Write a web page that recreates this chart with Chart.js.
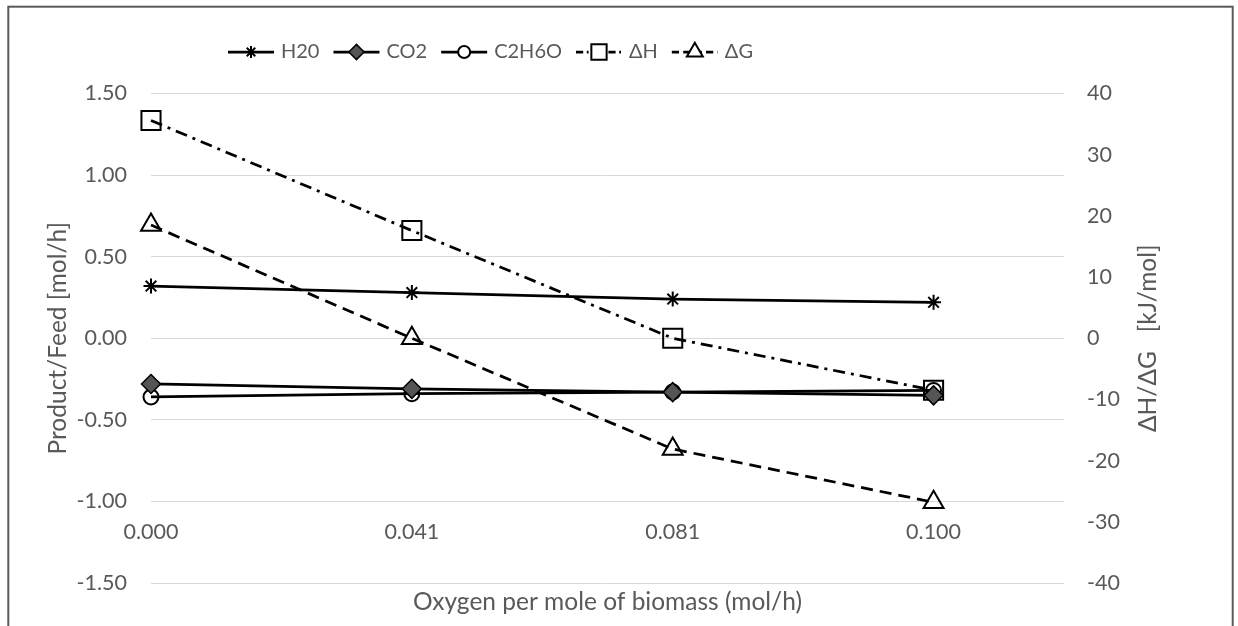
<!DOCTYPE html>
<html>
<head>
<meta charset="utf-8">
<script src="https://cdn.jsdelivr.net/npm/chart.js@4.4.1/dist/chart.umd.min.js"></script>
<style>
  html, body { margin: 0; padding: 0; background: #ffffff; }
  #wrap { width: 1238px; height: 626px; position: relative; }
</style>
</head>
<body>
<div id="wrap"><canvas id="chart" width="1238" height="626"></canvas></div>
<script>
// Oxygen feed per mole of biomass (category labels on the x axis)
const oxygenLabels = ['0.000', '0.041', '0.081', '0.100'];

// Product/Feed [mol/h] – left axis
const h2o     = [0.32, 0.28, 0.24, 0.22];
const co2     = [-0.28, -0.31, -0.33, -0.35];
const ethanol = [-0.36, -0.34, -0.33, -0.32];

// Reaction enthalpy / Gibbs energy [kJ/mol] – right axis
const deltaH = [35.6, 17.6, 0.0, -8.5];
const deltaG = [18.5, 0.0, -18.1, -26.8];

const seriesNames = ['H20', 'CO2', 'C2H6O', 'ΔH', 'ΔG'];

const TEXT = '#595959';
const FONT = 'Lato, "Liberation Sans", sans-serif';
const TICK_SIZE = 21.5;
const TITLE_SIZE = 24.5;
const LEGEND_SIZE = 20;

Chart.defaults.font.family = FONT;
Chart.defaults.font.size = TICK_SIZE;
Chart.defaults.color = TEXT;

const toPoints = arr => arr.map((v, i) => ({ x: i, y: v }));

function series(label, values, axis, style) {
  return Object.assign({
    label,
    data: toPoints(values),
    yAxisID: axis,
    borderColor: '#000000',
    borderWidth: 2.75,
    pointBorderColor: '#000000',
    pointBackgroundColor: 'rgba(0,0,0,0)',
    pointBorderWidth: 2,
    tension: 0,
    clip: false
  }, style);
}

const datasets = [
  series(seriesNames[0], h2o, 'y', { pointStyle: 'star', pointRadius: 7.5 }),
  series(seriesNames[1], co2, 'y', { pointStyle: 'rectRot', pointRadius: 9.5, pointBackgroundColor: '#555555', pointBorderWidth: 1.5 }),
  series(seriesNames[2], ethanol, 'y', { pointStyle: 'circle', pointRadius: 7.5 }),
  series(seriesNames[3], deltaH, 'y1', { pointStyle: 'rect', pointRadius: 13.5, borderDash: [12, 6, 3, 6] }),
  series(seriesNames[4], deltaG, 'y1', { pointStyle: 'triangle', pointRadius: 11.5, borderDash: [12, 7] })
];

// Outer frame of the chart
const frame = {
  id: 'frame',
  beforeDraw(chart) {
    const { ctx } = chart;
    ctx.save();
    ctx.strokeStyle = '#5a5a5a';
    ctx.lineWidth = 2;
    ctx.strokeRect(8.3, 6.7, 1224.4, 700);
    ctx.restore();
  }
};

// Legend row: line sample with its marker, then the series name
const sampleLegend = {
  id: 'sampleLegend',
  afterDraw(chart, args, opts) {
    const { ctx } = chart;
    let x = opts.x;
    const y = opts.y;
    ctx.save();
    ctx.font = LEGEND_SIZE + 'px ' + FONT;
    chart.data.datasets.forEach(ds => {
      ctx.strokeStyle = ds.borderColor;
      ctx.lineWidth = ds.borderWidth;
      ctx.setLineDash((ds.borderDash || []).map(d => d * 0.6));
      ctx.beginPath();
      ctx.moveTo(x, y);
      ctx.lineTo(x + opts.sample, y);
      ctx.stroke();
      ctx.setLineDash([]);
      ctx.fillStyle = ds.pointBackgroundColor === 'rgba(0,0,0,0)' ? '#ffffff' : ds.pointBackgroundColor;
      ctx.strokeStyle = ds.pointBorderColor;
      ctx.lineWidth = ds.pointBorderWidth;
      Chart.helpers.drawPoint(ctx, {
        pointStyle: ds.pointStyle,
        radius: ds.pointRadius * opts.markerScale,
        borderWidth: ds.pointBorderWidth,
        rotation: 0
      }, x + opts.sample / 2, y);
      const tx = x + opts.sample + opts.gap;
      ctx.fillStyle = TEXT;
      ctx.textAlign = 'left';
      ctx.textBaseline = 'middle';
      ctx.fillText(ds.label, tx, y);
      x = tx + ctx.measureText(ds.label).width + opts.spacing;
    });
    ctx.restore();
  }
};

// Right-hand axis title, read bottom to top
const rightTitle = {
  id: 'rightTitle',
  afterDraw(chart, args, opts) {
    const { ctx, chartArea } = chart;
    ctx.save();
    ctx.translate(opts.x, (chartArea.top + chartArea.bottom) / 2);
    ctx.rotate(-Math.PI / 2);
    ctx.font = TITLE_SIZE + 'px ' + FONT;
    ctx.fillStyle = TEXT;
    ctx.textAlign = 'center';
    ctx.textBaseline = 'middle';
    ctx.fillText(opts.text, 0, 0);
    ctx.restore();
  }
};

new Chart(document.getElementById('chart'), {
  type: 'line',
  data: { datasets },
  options: {
    responsive: false,
    animation: false,
    devicePixelRatio: 1,
    layout: { padding: { top: 93.5, bottom: 43, left: 0, right: 0 } },
    plugins: {
      legend: { display: false },
      tooltip: { enabled: false },
      sampleLegend: { x: 228, y: 52, sample: 46, gap: 7, spacing: 14, markerScale: 0.8 },
      rightTitle: { x: 1148, text: 'ΔH/ΔG   [kJ/mol]' }
    },
    scales: {
      x: {
        type: 'linear',
        position: { y: -1 },
        min: 0,
        max: 3.5,
        grid: { display: false, drawTicks: false },
        border: { display: false },
        ticks: {
          stepSize: 1,
          includeBounds: false,
          autoSkip: false,
          maxRotation: 0,
          padding: 17.5,
          callback: v => oxygenLabels[v] ?? ''
        },
        title: {
          display: true,
          text: 'Oxygen per mole of biomass (mol/h)',
          font: { size: TITLE_SIZE },
          padding: { top: 25, bottom: 0 }
        }
      },
      y: {
        position: 'left',
        min: -1.5,
        max: 1.5,
        grid: { color: '#d9d9d9', lineWidth: 1, drawTicks: false },
        border: { display: false },
        ticks: { stepSize: 0.5, padding: 24, callback: v => v.toFixed(2) },
        title: {
          display: true,
          text: 'Product/Feed [mol/h]',
          font: { size: TITLE_SIZE },
          padding: { top: 43, bottom: 0 }
        },
        afterFit(scale) { scale.width = 151; }
      },
      y1: {
        position: 'right',
        min: -40,
        max: 40,
        grid: { display: false, drawTicks: false },
        border: { display: false },
        ticks: { stepSize: 10, padding: 23 },
        afterFit(scale) { scale.width = 174; }
      }
    }
  },
  plugins: [frame, sampleLegend, rightTitle]
});
</script>
</body>
</html>
